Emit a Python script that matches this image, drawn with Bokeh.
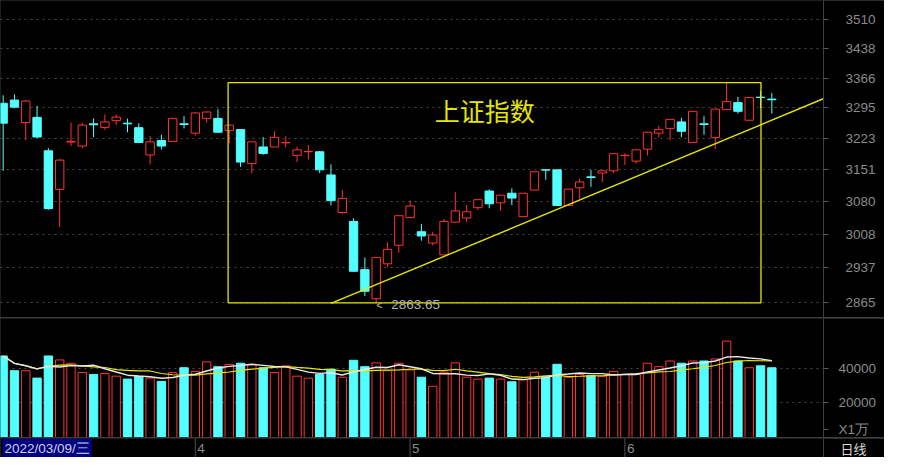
import pandas as pd
from bokeh.plotting import figure
from bokeh.layouts import column
from bokeh.models import (Range1d, FixedTicker, BasicTickFormatter, Label,
                          ColumnDataSource)
from bokeh.core.properties import value
from bokeh.embed import file_html
from bokeh.resources import INLINE

# ---------------- data ----------------
dates = (
    ["2022-03-%02d" % d for d in [9, 10, 11, 14, 15, 16, 17, 18, 21, 22, 23, 24, 25, 28, 29, 30, 31]]
    + ["2022-04-%02d" % d for d in [1, 6, 7, 8, 11, 12, 13, 14, 15, 18, 19, 20, 21, 22, 25, 26, 27, 28, 29]]
    + ["2022-05-%02d" % d for d in [5, 6, 9, 10, 11, 12, 13, 16, 17, 18, 19, 20, 23, 24, 25, 26, 27, 30, 31]]
    + ["2022-06-%02d" % d for d in [1, 2, 6, 7, 8, 9, 10, 13, 14, 15, 16, 17, 20, 21]]
)

open_ = [3305.4, 3313.1, 3259.9, 3272.1, 3194.3, 3107.0, 3214.3, 3205.4, 3256.9, 3248.6,
         3264.4, 3258.5, 3247.9, 3184.8, 3218.1, 3215.9, 3256.9, 3235.1, 3269.8, 3269.8,
         3241.1, 3243.4, 3165.0, 3203.2, 3203.2, 3212.7, 3184.0, 3192.1, 3192.1, 3139.4,
         3055.7, 3036.1, 2932.7, 2872.0, 2945.0, 2984.6, 3044.5, 3013.7, 2989.3, 2964.0,
         3034.6, 3043.6, 3066.4, 3103.3, 3077.0, 3098.4, 3046.6, 3105.5, 3151.0, 3151.0,
         3071.2, 3110.6, 3135.1, 3143.8, 3148.8, 3183.3, 3170.8, 3198.1, 3235.1, 3246.3,
         3261.4, 3213.6, 3256.9, 3224.8, 3290.3, 3307.0, 3265.3, 3320.0, 3315.4]
high = [3324.6, 3326.9, 3313.1, 3299.4, 3200.3, 3176.0, 3259.9, 3259.9, 3269.8, 3278.9,
        3278.9, 3268.9, 3258.5, 3228.3, 3231.5, 3270.0, 3275.0, 3284.1, 3285.7, 3291.6,
        3254.5, 3243.4, 3215.0, 3226.1, 3239.6, 3228.3, 3203.8, 3207.6, 3194.3, 3163.5,
        3105.5, 3043.0, 2958.5, 2958.8, 2990.7, 3048.7, 3081.9, 3031.0, 3013.7, 3041.5,
        3100.5, 3072.1, 3084.0, 3107.0, 3094.1, 3109.2, 3098.4, 3146.6, 3151.0, 3151.5,
        3107.6, 3130.8, 3151.0, 3148.8, 3187.7, 3189.2, 3196.6, 3237.3, 3252.4, 3267.5,
        3271.2, 3286.4, 3275.0, 3291.6, 3355.0, 3320.7, 3319.1, 3334.6, 3330.0]
low = [3148.8, 3293.9, 3218.8, 3224.0, 3062.0, 3024.2, 3205.4, 3200.3, 3226.1, 3242.7,
       3254.0, 3237.3, 3213.0, 3163.5, 3197.2, 3215.0, 3246.3, 3229.9, 3259.9, 3237.0,
       3212.0, 3157.6, 3143.1, 3185.5, 3203.0, 3202.5, 3168.6, 3174.5, 3143.8, 3071.2,
       3052.1, 2928.5, 2877.6, 2863.65, 2938.0, 2968.7, 3044.0, 2994.3, 2984.0, 2964.0,
       3034.6, 3034.6, 3061.4, 3065.0, 3059.3, 3072.1, 3046.6, 3105.5, 3128.6, 3071.0,
       3070.0, 3085.6, 3112.8, 3123.6, 3143.8, 3162.0, 3165.0, 3184.0, 3224.8, 3218.8,
       3226.1, 3213.6, 3231.5, 3198.1, 3290.0, 3281.1, 3265.0, 3293.9, 3281.1]
close = [3258.5, 3296.2, 3310.9, 3226.1, 3064.2, 3173.0, 3216.5, 3254.0, 3254.7, 3261.4,
         3272.7, 3256.9, 3213.6, 3215.0, 3205.4, 3269.8, 3255.3, 3282.5, 3284.8, 3237.3,
         3254.0, 3168.6, 3215.0, 3188.4, 3225.4, 3213.6, 3196.6, 3192.8, 3151.0, 3081.9,
         3087.0, 2929.3, 2887.5, 2958.3, 2975.7, 3048.7, 3070.0, 3004.7, 3006.8, 3036.1,
         3059.3, 3057.2, 3084.0, 3074.9, 3094.1, 3087.7, 3098.4, 3146.6, 3150.3, 3071.2,
         3107.6, 3123.6, 3133.6, 3148.8, 3187.7, 3184.0, 3196.6, 3237.3, 3243.4, 3267.5,
         3239.6, 3286.4, 3255.3, 3291.6, 3309.3, 3286.4, 3319.1, 3319.1, 3313.8]
volume = [47200, 38700, 38700, 34400, 47200, 44900, 43000, 37600, 36500, 37000,
          35500, 33800, 35300, 34400, 32500, 37600, 40400, 38300, 43800, 41000,
          42300, 43000, 42100, 40400, 37600, 41500, 35500, 34400, 36600, 39600,
          34900, 44700, 41000, 43200, 38700, 43000, 39100, 34900, 29700, 37800,
          43200, 34900, 33800, 34400, 33800, 32300, 33400, 37800, 35300, 42400,
          34900, 36500, 35900, 35300, 38300, 36500, 36500, 43000, 41000, 44300,
          43000, 44300, 44300, 45500, 55800, 44300, 40400, 41500, 40400]

price_ticks = [2865, 2937, 3008, 3080, 3151, 3223, 3295, 3366, 3438, 3510]
volume_ticks = [20000, 40000]

title_text = "上证指数"
period_text = "日线"
unit_text = "X1万"

# annotations drawn on the chart (in data coordinates)
box_first, box_last = 20, 67          # candles spanned by the yellow box
trend_start = (29.0, 2862.3)          # yellow support line
trend_end = (72.6, 3316.8)
title_pos = (42.6, 3289.0)
unit_pos = 4700                       # volume-axis slot of the unit tag

# ---------------- styling ----------------
BG = "#000000"
UP = "#ff3232"
DOWN = "#54ffff"
YELLOW = "#e6e600"
AXIS = "#3f3f3f"
GRID = "#4a4a4a"
LABEL = "#8a8a8a"
FONT = "Liberation Sans"
CJK = "Noto Sans CJK SC"

n = len(dates)
idx = list(range(n))
is_up = [c >= o for o, c in zip(open_, close)]
ma5 = pd.Series(volume).rolling(5, min_periods=1).mean().tolist()
ma10 = pd.Series(volume).rolling(10, min_periods=1).mean().tolist()

src = ColumnDataSource(dict(
    x=idx, high=high, low=low, vol=volume,
    top=[max(o, c) for o, c in zip(open_, close)],
    bottom=[min(o, c) for o, c in zip(open_, close)],
    color=[UP if u else DOWN for u in is_up],
    fill=[BG if u else DOWN for u in is_up],
))

x_range = Range1d(-0.235, 72.57)
RIGHT = 61


def base_fig(height, y_range, y_type="linear"):
    f = figure(width=884, height=height, x_range=x_range, y_range=y_range,
               y_axis_type=y_type, y_axis_location="right", x_axis_location=None,
               output_backend="svg", toolbar_location=None,
               background_fill_color=BG, border_fill_color=BG,
               outline_line_color=None, min_border=0, min_border_right=RIGHT)
    f.xgrid.visible = False
    ax = f.yaxis[0]
    ax.axis_line_color = AXIS
    ax.major_tick_line_color = "#5a5a5a"
    ax.major_tick_in = 0
    ax.major_tick_out = 5
    ax.minor_tick_line_color = None
    ax.major_label_text_color = LABEL
    ax.major_label_text_font = FONT
    ax.major_label_text_font_size = "13.5px"
    ax.formatter = BasicTickFormatter(use_scientific=False)
    return f


# ---------------- price panel ----------------
p1 = base_fig(317, Range1d(2833.5, 3559.0), "log")
p1.yaxis.ticker = FixedTicker(ticks=price_ticks)
p1.yaxis.major_label_standoff = 17
p1.ygrid.ticker = FixedTicker(ticks=price_ticks)
p1.ygrid.grid_line_color = GRID
p1.ygrid.grid_line_dash = "2 4"

p1.segment(x0="x", y0="low", x1="x", y1="high", line_color="color", line_width=1, source=src)
p1.vbar(x="x", width=0.74, top="top", bottom="bottom", fill_color="fill",
        line_color="color", line_width=1, source=src)

box_low = min(low[box_first:box_last + 1])
box_high = max(high[box_first:box_last + 1])
p1.quad(left=[box_first - 0.1], right=[box_last + 0.04], bottom=[box_low], top=[box_high],
        fill_color=None, line_color=YELLOW, line_width=1.3)
p1.line(x=[trend_start[0], trend_end[0]], y=[trend_start[1], trend_end[1]],
        line_color=YELLOW, line_width=1.4)
p1.text(x=[title_pos[0]], y=[title_pos[1]], text=[title_text], text_font=value(CJK),
        text_font_size="25px", text_color=YELLOW, text_align="center", text_baseline="middle")

i_min = low.index(min(low))
p1.text(x=[i_min], y=[low[i_min]], text=["<"], text_font=value(FONT), text_font_size="11px",
        text_color="#b4b4b4", text_align="left", text_baseline="middle", x_offset=0, y_offset=2)
p1.text(x=[i_min], y=[low[i_min]], text=["%.2f" % low[i_min]], text_font=value(FONT),
        text_font_size="13.5px", text_color="#b4b4b4", text_align="left",
        text_baseline="middle", x_offset=15, y_offset=2)

# ---------------- volume panel ----------------
p2 = base_fig(119, Range1d(0, 68900))
p2.yaxis.ticker = FixedTicker(ticks=[unit_pos] + volume_ticks)
p2.yaxis.major_label_overrides = {unit_pos: unit_text}
p2.yaxis.major_label_standoff = 10
p2.ygrid.ticker = FixedTicker(ticks=volume_ticks)
p2.ygrid.grid_line_color = GRID
p2.ygrid.grid_line_dash = "2 4"

p2.vbar(x="x", width=0.74, top="vol", bottom=0, fill_color="fill",
        line_color="color", line_width=1, source=src)
p2.line(x=idx, y=ma10, line_color=YELLOW, line_width=1.2)
p2.line(x=idx, y=ma5, line_color="#e8e8e8", line_width=1.4)

# ---------------- date strip ----------------
p3 = base_fig(19, Range1d(0, 2))
p3.ygrid.visible = False
p3.yaxis.ticker = FixedTicker(ticks=[1])
p3.yaxis.major_label_overrides = {1: period_text}
p3.yaxis.major_tick_out = 0
p3.yaxis.major_label_standoff = 17
p3.yaxis.major_label_text_font = CJK
p3.yaxis.major_label_text_font_size = "13px"
p3.yaxis.major_label_text_color = "#d8d8d8"

month_start = [i for i in range(1, n) if dates[i][5:7] != dates[i - 1][5:7]]
month_text = [str(int(dates[i][5:7])) for i in month_start]
p3.segment(x0=month_start, y0=0, x1=month_start, y1=2, line_color="#505050", line_width=1)
p3.text(x=month_start, y=[1] * len(month_start), text=month_text, text_font=value(FONT),
        text_font_size="13.5px", text_color=LABEL, text_align="left",
        text_baseline="middle", x_offset=2)

wk = "一二三四五六日"[pd.Timestamp(dates[0]).weekday()]
first_label = dates[0].replace("-", "/") + "/" + wk
p3.add_layout(Label(x=x_range.start, y=1, x_units="data", y_units="data", text=first_label,
                    x_offset=2, text_font=FONT, text_font_size="13.5px",
                    text_color="#d0d0e0", text_baseline="middle", text_align="left",
                    background_fill_color="#000080", padding=2))

layout = column(p1, p2, p3, spacing=1, styles={"background-color": "#3c3c3c"})
open("out.html", "w").write(file_html(layout, INLINE))
